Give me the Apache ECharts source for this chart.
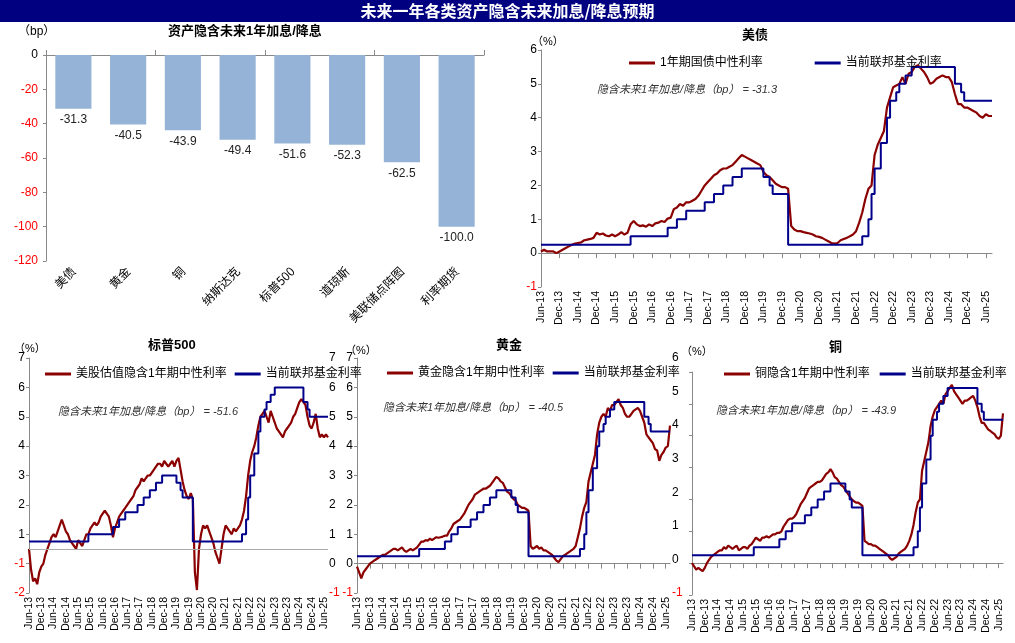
<!DOCTYPE html>
<html>
<head>
<meta charset="utf-8">
<script src="https://cdn.jsdelivr.net/npm/echarts@6/dist/echarts.min.js"></script>
<style>
  html, body { margin: 0; padding: 0; background: #fff; }
  #main { width: 1015px; height: 643px; }
</style>
</head>
<body>
<div id="main"></div>
<script>
// 左上柱状图数据
var barCats = ['美债', '黄金', '铜', '纳斯达克', '标普500', '道琼斯', '美联储点阵图', '利率期货'];
var barVals = [-31.3, -40.5, -43.9, -49.4, -51.6, -52.3, -62.5, -100.0];

// 月度横轴 Jun-13 ~ Aug-25
var monthNames = ['Jan', 'Feb', 'Mar', 'Apr', 'May', 'Jun', 'Jul', 'Aug', 'Sep', 'Oct', 'Nov', 'Dec'];
var months = [];
for (var y = 2013; y <= 2025; y++) {
  for (var m = 0; m < 12; m++) {
    if (y === 2013 && m < 5) continue;
    if (y === 2025 && m > 7) continue;
    months.push(monthNames[m] + '-' + String(y).slice(2));
  }
}

// 美债 1年期国债中性利率
var ustRate = [
  0.05, 0.1, 0.05, 0.05, 0.05, 0.0, 0.05,
  0.1, 0.15, 0.2, 0.25, 0.28, 0.3, 0.32, 0.38, 0.4, 0.42, 0.45, 0.6,
  0.55, 0.58, 0.52, 0.5, 0.55, 0.5, 0.55, 0.62, 0.55, 0.6, 0.85, 0.95,
  0.85, 0.8, 0.82, 0.78, 0.85, 0.8, 0.88, 0.9, 0.95, 0.92, 1.02, 1.05,
  1.3, 1.35, 1.45, 1.4, 1.5, 1.5, 1.55, 1.6, 1.7, 1.85, 2.0, 2.1,
  2.2, 2.3, 2.35, 2.45, 2.5, 2.5, 2.55, 2.6, 2.7, 2.8, 2.9, 2.85,
  2.8, 2.75, 2.7, 2.65, 2.6, 2.4, 2.3, 2.25, 2.15, 2.05, 2.0, 1.95,
  1.95, 1.9, 0.8, 0.7, 0.65, 0.65, 0.62, 0.6, 0.58, 0.55, 0.5, 0.48,
  0.45, 0.4, 0.35, 0.3, 0.28, 0.3, 0.38, 0.42, 0.45, 0.5, 0.55, 0.65,
  0.9, 1.2, 1.6, 1.9, 2.0, 2.9, 3.2, 3.4, 3.6, 4.3, 4.6, 4.9,
  4.95, 5.0, 5.2, 5.0, 5.3, 5.35, 5.5, 5.55, 5.45, 5.35, 5.2, 5.0,
  5.05, 5.15, 5.2, 5.25, 5.2, 5.2, 5.05, 4.7, 4.4, 4.4, 4.3, 4.3,
  4.25, 4.2, 4.15, 4.05, 4.0, 4.1, 4.05, 4.05
];

// 当前联邦基金利率
var fedRate = [
  0.25, 0.25, 0.25, 0.25, 0.25, 0.25, 0.25,
  0.25, 0.25, 0.25, 0.25, 0.25, 0.25, 0.25, 0.25, 0.25, 0.25, 0.25, 0.25,
  0.25, 0.25, 0.25, 0.25, 0.25, 0.25, 0.25, 0.25, 0.25, 0.25, 0.25, 0.5,
  0.5, 0.5, 0.5, 0.5, 0.5, 0.5, 0.5, 0.5, 0.5, 0.5, 0.5, 0.75,
  0.75, 0.75, 1.0, 1.0, 1.0, 1.25, 1.25, 1.25, 1.25, 1.25, 1.25, 1.5,
  1.5, 1.5, 1.75, 1.75, 1.75, 2.0, 2.0, 2.0, 2.25, 2.25, 2.25, 2.5,
  2.5, 2.5, 2.5, 2.5, 2.5, 2.5, 2.25, 2.25, 2.0, 1.75, 1.75, 1.75,
  1.75, 1.75, 0.25, 0.25, 0.25, 0.25, 0.25, 0.25, 0.25, 0.25, 0.25, 0.25,
  0.25, 0.25, 0.25, 0.25, 0.25, 0.25, 0.25, 0.25, 0.25, 0.25, 0.25, 0.25,
  0.25, 0.25, 0.5, 0.5, 1.0, 1.75, 2.5, 2.5, 3.25, 3.25, 4.0, 4.5,
  4.5, 4.75, 5.0, 5.0, 5.25, 5.25, 5.5, 5.5, 5.5, 5.5, 5.5, 5.5,
  5.5, 5.5, 5.5, 5.5, 5.5, 5.5, 5.5, 5.5, 5.0, 5.0, 4.75, 4.5,
  4.5, 4.5, 4.5, 4.5, 4.5, 4.5, 4.5, 4.5
];

// 标普500面板中的联邦基金利率（按右轴读数）
var fedRateSpx = [
  0.75, 0.75, 0.75, 0.75, 0.75, 0.75, 0.75,
  0.75, 0.75, 0.75, 0.75, 0.75, 0.75, 0.75, 0.75, 0.75, 0.75, 0.75, 0.75,
  0.75, 0.75, 0.75, 0.75, 0.75, 0.75, 0.75, 0.75, 0.75, 0.75, 0.75, 1.0,
  1.0, 1.0, 1.0, 1.0, 1.0, 1.0, 1.0, 1.0, 1.0, 1.0, 1.0, 1.25,
  1.25, 1.25, 1.5, 1.5, 1.5, 1.75, 1.75, 1.75, 1.75, 1.75, 1.75, 2.0,
  2.0, 2.0, 2.25, 2.25, 2.25, 2.5, 2.5, 2.5, 2.75, 2.75, 2.75, 3.0,
  3.0, 3.0, 3.0, 3.0, 3.0, 3.0, 2.75, 2.75, 2.5, 2.25, 2.25, 2.25,
  2.25, 2.25, 0.75, 0.75, 0.75, 0.75, 0.75, 0.75, 0.75, 0.75, 0.75, 0.75,
  0.75, 0.75, 0.75, 0.75, 0.75, 0.75, 0.75, 0.75, 0.75, 0.75, 0.75, 0.75,
  0.75, 0.75, 1.0, 1.0, 1.5, 2.25, 3.0, 3.0, 3.75, 3.75, 4.5, 5.0,
  5.0, 5.25, 5.5, 5.5, 5.75, 5.75, 6.0, 6.0, 6.0, 6.0, 6.0, 6.0,
  6.0, 6.0, 6.0, 6.0, 6.0, 6.0, 6.0, 6.0, 5.5, 5.5, 5.25, 5.0,
  5.0, 5.0, 5.0, 5.0, 5.0, 5.0, 5.0, 5.0
];

// 美股估值隐含1年期中性利率
var spxRate = [
  0.5, -0.2, -0.6, -0.5, -0.7, -0.3, -0.1,
  0.0, 0.3, 0.5, 0.7, 0.9, 1.0, 0.9, 1.1, 1.3, 1.5, 1.3, 1.1,
  1.0, 0.8, 0.7, 0.6, 0.5, 0.8, 0.7, 0.6, 0.8, 1.0, 1.0, 1.2,
  1.3, 1.4, 1.3, 1.4, 1.6, 1.7, 1.8, 1.7, 1.6, 1.3, 0.9, 1.2,
  1.4, 1.6, 1.7, 1.8, 1.9, 2.0, 2.1, 2.2, 2.3, 2.5, 2.6, 2.7,
  2.9, 2.8, 2.9, 3.0, 3.0, 3.1, 3.2, 3.3, 3.4, 3.4, 3.3, 3.5,
  3.4, 3.3, 3.4, 3.5, 3.3, 3.5, 3.6, 3.2, 2.8, 2.5, 2.3, 2.2,
  2.4, 2.2, -0.3, -0.9, 0.5, 1.0, 1.3, 1.2, 1.3, 1.1, 0.9, 0.7,
  0.4, 0.2, 0.0, 0.5, 1.0, 1.3, 1.2, 1.1, 1.0, 1.2, 1.1, 1.2,
  1.3, 1.5, 1.8, 2.3, 3.0, 3.5, 3.8, 4.0, 4.3, 4.7, 5.0, 5.1,
  5.2, 5.0, 4.8, 5.2, 5.0, 4.8, 4.6, 4.5, 4.4, 4.3, 4.5, 4.6,
  4.7, 4.8, 5.0, 5.1, 5.3, 5.5, 5.6, 5.5, 5.4, 5.0, 4.7, 4.6,
  4.8, 5.1, 4.6, 4.3, 4.4, 4.3, 4.4, 4.3
];

// 黄金隐含1年期中性利率
var goldRate = [
  -0.1, -0.3, -0.5, -0.3, -0.2, -0.1, 0.0,
  0.05, 0.1, 0.15, 0.2, 0.25, 0.3, 0.3, 0.35, 0.4, 0.45, 0.5, 0.5,
  0.45, 0.5, 0.55, 0.45, 0.4, 0.45, 0.5, 0.45, 0.5, 0.55, 0.65, 0.75,
  0.75, 0.8, 0.78, 0.85, 0.8, 0.85, 0.9, 0.88, 0.9, 0.92, 0.95, 0.95,
  1.1, 1.2, 1.35, 1.4, 1.45, 1.5, 1.6, 1.7, 1.85, 2.0, 2.1, 2.2,
  2.35, 2.4, 2.45, 2.5, 2.55, 2.55, 2.6, 2.65, 2.75, 2.85, 2.95, 2.9,
  2.8, 2.75, 2.6, 2.45, 2.4, 2.3, 2.2, 2.15, 2.0, 1.95, 1.9, 1.9,
  1.85, 1.8, 0.6, 0.5, 0.55, 0.6, 0.5, 0.55, 0.45, 0.45, 0.4, 0.35,
  0.3, 0.2, 0.1, 0.05, 0.15, 0.25, 0.3, 0.35, 0.4, 0.45, 0.5, 0.6,
  0.9, 1.2, 1.6, 1.9, 2.1, 2.8, 3.1, 3.4, 3.7, 4.4, 4.8, 5.0,
  5.1, 5.0, 5.3, 5.2, 5.4, 5.4, 5.5, 5.6, 5.4, 5.3, 5.1, 5.0,
  5.0, 5.1, 5.2, 5.25, 5.3, 5.2, 5.0, 4.8, 4.4, 4.3, 4.2, 4.1,
  3.9, 3.85, 3.5, 3.7, 3.8, 3.95, 4.0, 4.7
];

// 铜隐含1年期中性利率
var copperRate = [
  0.0, -0.1, -0.2, -0.15, -0.2, -0.25, -0.15,
  0.0, 0.1, 0.2, 0.25, 0.3, 0.35, 0.4, 0.4, 0.5, 0.45, 0.55, 0.5,
  0.45, 0.5, 0.55, 0.4, 0.45, 0.5, 0.5, 0.45, 0.55, 0.6, 0.7, 0.8,
  0.75, 0.7, 0.8, 0.8, 0.85, 0.8, 0.85, 0.9, 0.9, 0.95, 0.95, 1.0,
  1.15, 1.25, 1.35, 1.4, 1.4, 1.45, 1.55, 1.7, 1.85, 1.95, 2.05, 2.2,
  2.35, 2.4, 2.45, 2.5, 2.55, 2.55, 2.6, 2.7, 2.8, 2.85, 2.95, 2.85,
  2.7, 2.65, 2.55, 2.45, 2.4, 2.3, 2.2, 2.1, 2.0, 1.95, 1.9, 1.9,
  1.85, 1.8, 0.7, 0.65, 0.6, 0.6, 0.55, 0.55, 0.5, 0.45, 0.4, 0.35,
  0.3, 0.25, 0.15, 0.1, 0.15, 0.2, 0.3, 0.35, 0.4, 0.45, 0.55, 0.7,
  0.9, 1.2, 1.6, 1.9, 2.0, 2.9, 3.2, 3.5, 3.8, 4.3, 4.6, 4.8,
  4.9, 5.0, 5.1, 5.0, 5.3, 5.4, 5.5, 5.6, 5.4, 5.3, 5.2, 5.1,
  5.0, 5.1, 5.1, 5.15, 5.2, 5.25, 5.1, 4.9, 4.6, 4.4, 4.4, 4.3,
  4.2, 4.15, 4.1, 4.05, 3.95, 3.9, 4.0, 4.7
];

var RED = '#8B0000', BLUE = '#00008B';
var FONT = '"Liberation Sans", Arial, "Noto Sans CJK SC", sans-serif';

var myChart = echarts.init(document.getElementById('main'));

function negRed(v) { return v < 0 ? '{r|' + v + '}' : '{k|' + v + '}'; }
var richLbl = { r: { color: '#ff0000', fontSize: 12 }, k: { color: '#000', fontSize: 12 } };

// 时间轴
function monthAxis(gi) {
  return {
    type: 'category', gridIndex: gi, data: months, boundaryGap: false,
    axisLine: { lineStyle: { color: '#888' } },
    axisTick: { interval: 5, lineStyle: { color: '#888' } },
    axisLabel: { interval: 5, rotate: 90, color: '#000', fontSize: 10.5, fontFamily: FONT, margin: 4 },
    splitLine: { show: false }
  };
}
// opt: {pos, margin, noLine, noLabel}
function valAxis(gi, min, max, fmt, opt) {
  opt = opt || {};
  return {
    type: 'value', gridIndex: gi, min: min, max: max, interval: 1, position: opt.pos || 'left',
    axisLine: { show: !opt.noLine, lineStyle: { color: '#888' } },
    axisTick: { show: !opt.noLine, length: 3, lineStyle: { color: '#888' } },
    splitLine: { show: false },
    axisLabel: { show: !opt.noLabel, fontSize: 12, fontFamily: FONT, margin: opt.margin || 4,
      formatter: function (v) { return negRed(fmt ? fmt(v) : v); }, rich: richLbl }
  };
}
function lineS(name, xi, yi, data, color, step) {
  return {
    name: name, type: 'line', xAxisIndex: xi, yAxisIndex: yi, data: data,
    step: step ? 'start' : false, symbol: 'none',
    lineStyle: { color: color, width: step ? 2 : 2.2 }, itemStyle: { color: color },
    z: step ? 3 : 2
  };
}
function legendAt(names, left, top, gap) {
  return {
    data: names, left: left, top: top, itemWidth: 26, itemHeight: 3, itemGap: gap, width: 500,
    icon: 'rect', textStyle: { fontSize: 12, fontFamily: FONT, color: '#000' }
  };
}
function txt(x, y, s, size, bold, italic, color) {
  return { type: 'text', left: x, top: y, style: { text: s,
    fill: color || '#000', font: (italic ? 'italic ' : '') + (bold ? 'bold ' : '') + (size || 12) + 'px ' + FONT } };
}

var option = {
  animation: false,
  textStyle: { fontFamily: FONT },
  graphic: [
    { type: 'rect', left: 0, top: 0, shape: { width: 1015, height: 22 }, style: { fill: '#000080' } },
    { type: 'text', left: 'center', top: 3, style: { text: '未来一年各类资产隐含未来加息/降息预期', fill: '#fff',
      font: 'bold 16px "Noto Sans CJK SC", sans-serif' } },
    txt(168, 25, '资产隐含未来1年加息/降息', 13, true),
    txt(18, 26, '（bp）', 12),
    txt(742, 29, '美债', 13, true),
    txt(532, 36, '（%）', 11),
    txt(597, 84, '隐含未来1年加息/降息（bp） = -31.3', 11, false, true, '#333'),
    txt(148, 339, '标普500', 13, true),
    txt(14, 343, '（%）', 11),
    txt(58, 406, '隐含未来1年加息/降息（bp） = -51.6', 11, false, true, '#333'),
    txt(496, 339, '黄金', 13, true),
    txt(345, 345, '（%）', 11),
    txt(383, 402, '隐含未来1年加息/降息（bp） = -40.5', 11, false, true, '#333'),
    txt(829, 341, '铜', 13, true),
    txt(681, 346, '（%）', 11),
    txt(716, 405, '隐含未来1年加息/降息（bp） = -43.9', 11, false, true, '#333')
  ],
  legend: [
    legendAt(['1年期国债中性利率', '当前联邦基金利率'], 624, 52, 52),
    legendAt(['美股估值隐含1年期中性利率', '当前联邦基金利率 '], 40, 363, 8),
    legendAt(['黄金隐含1年期中性利率', '当前联邦基金利率  '], 382, 362, 8),
    legendAt(['铜隐含1年期中性利率', '当前联邦基金利率   '], 719, 363, 10)
  ],
  grid: [
    { left: 46, right: 531, top: 55, height: 206 },
    { left: 541, right: 23, top: 50, height: 237 },
    { left: 29, right: 687, top: 358, height: 235 },
    { left: 357, right: 345, top: 358, height: 235 },
    { left: 692, right: 12, top: 372, height: 223 }
  ],
  xAxis: [
    {
      type: 'category', gridIndex: 0, data: barCats, position: 'top',
      axisLine: { onZero: true, lineStyle: { color: '#888' } },
      axisTick: { show: true, lineStyle: { color: '#888' } },
      axisLabel: { show: false }
    },
    monthAxis(1), monthAxis(2), monthAxis(3), monthAxis(4),
    // 柱状图底部类别标签
    {
      type: 'category', gridIndex: 0, data: barCats, position: 'bottom',
      axisLine: { show: false }, axisTick: { show: false },
      axisLabel: { rotate: 45, fontSize: 12, color: '#000', margin: 8, fontFamily: '"Noto Sans CJK SC", sans-serif' }
    }
  ],
  yAxis: [
    {
      type: 'value', gridIndex: 0, min: -120, max: 0, interval: 20,
      axisLine: { show: true, lineStyle: { color: '#888' } },
      axisTick: { show: true, length: 3, lineStyle: { color: '#888' } },
      splitLine: { show: false },
      axisLabel: { fontSize: 12, formatter: negRed, rich: richLbl }
    },
    valAxis(1, -1, 6),
    // 标普500：左轴标签沿用原图写法
    valAxis(2, -1, 7, function (v) { return v <= 0 ? v - 1 : v; }),
    valAxis(2, -1, 7, null, { pos: 'right', margin: 1, noLine: true }),
    valAxis(3, -1, 7),
    valAxis(3, -1, 6, null, { pos: 'right', margin: 2, noLine: true }),
    valAxis(4, -1, 6, null, { noLabel: true })
  ],
  series: [
    {
      type: 'bar', xAxisIndex: 0, yAxisIndex: 0, data: barVals, barWidth: '66%',
      itemStyle: { color: '#95B3D7' },
      label: { show: true, position: 'bottom', color: '#222', fontSize: 12,
        formatter: function (p) { return p.value.toFixed(1); } }
    },
    lineS('1年期国债中性利率', 1, 1, ustRate, RED),
    lineS('当前联邦基金利率', 1, 1, fedRate, BLUE, true),
    Object.assign(lineS('美股估值隐含1年期中性利率', 2, 3, spxRate, RED), {
      markLine: { silent: true, symbol: 'none', label: { show: false },
        lineStyle: { color: '#aaa', type: 'solid', width: 1 }, data: [{ yAxis: 0.5 }] }
    }),
    lineS('当前联邦基金利率 ', 2, 3, fedRateSpx, BLUE, true),
    lineS('黄金隐含1年期中性利率', 3, 4, goldRate, RED),
    lineS('当前联邦基金利率  ', 3, 4, fedRate, BLUE, true),
    lineS('铜隐含1年期中性利率', 4, 6, copperRate, RED),
    lineS('当前联邦基金利率   ', 4, 6, fedRate, BLUE, true)
  ]
};
option.xAxis[2].axisLine.show = false;
option.xAxis[2].axisTick.show = false;
myChart.setOption(option);
</script>
</body>
</html>
